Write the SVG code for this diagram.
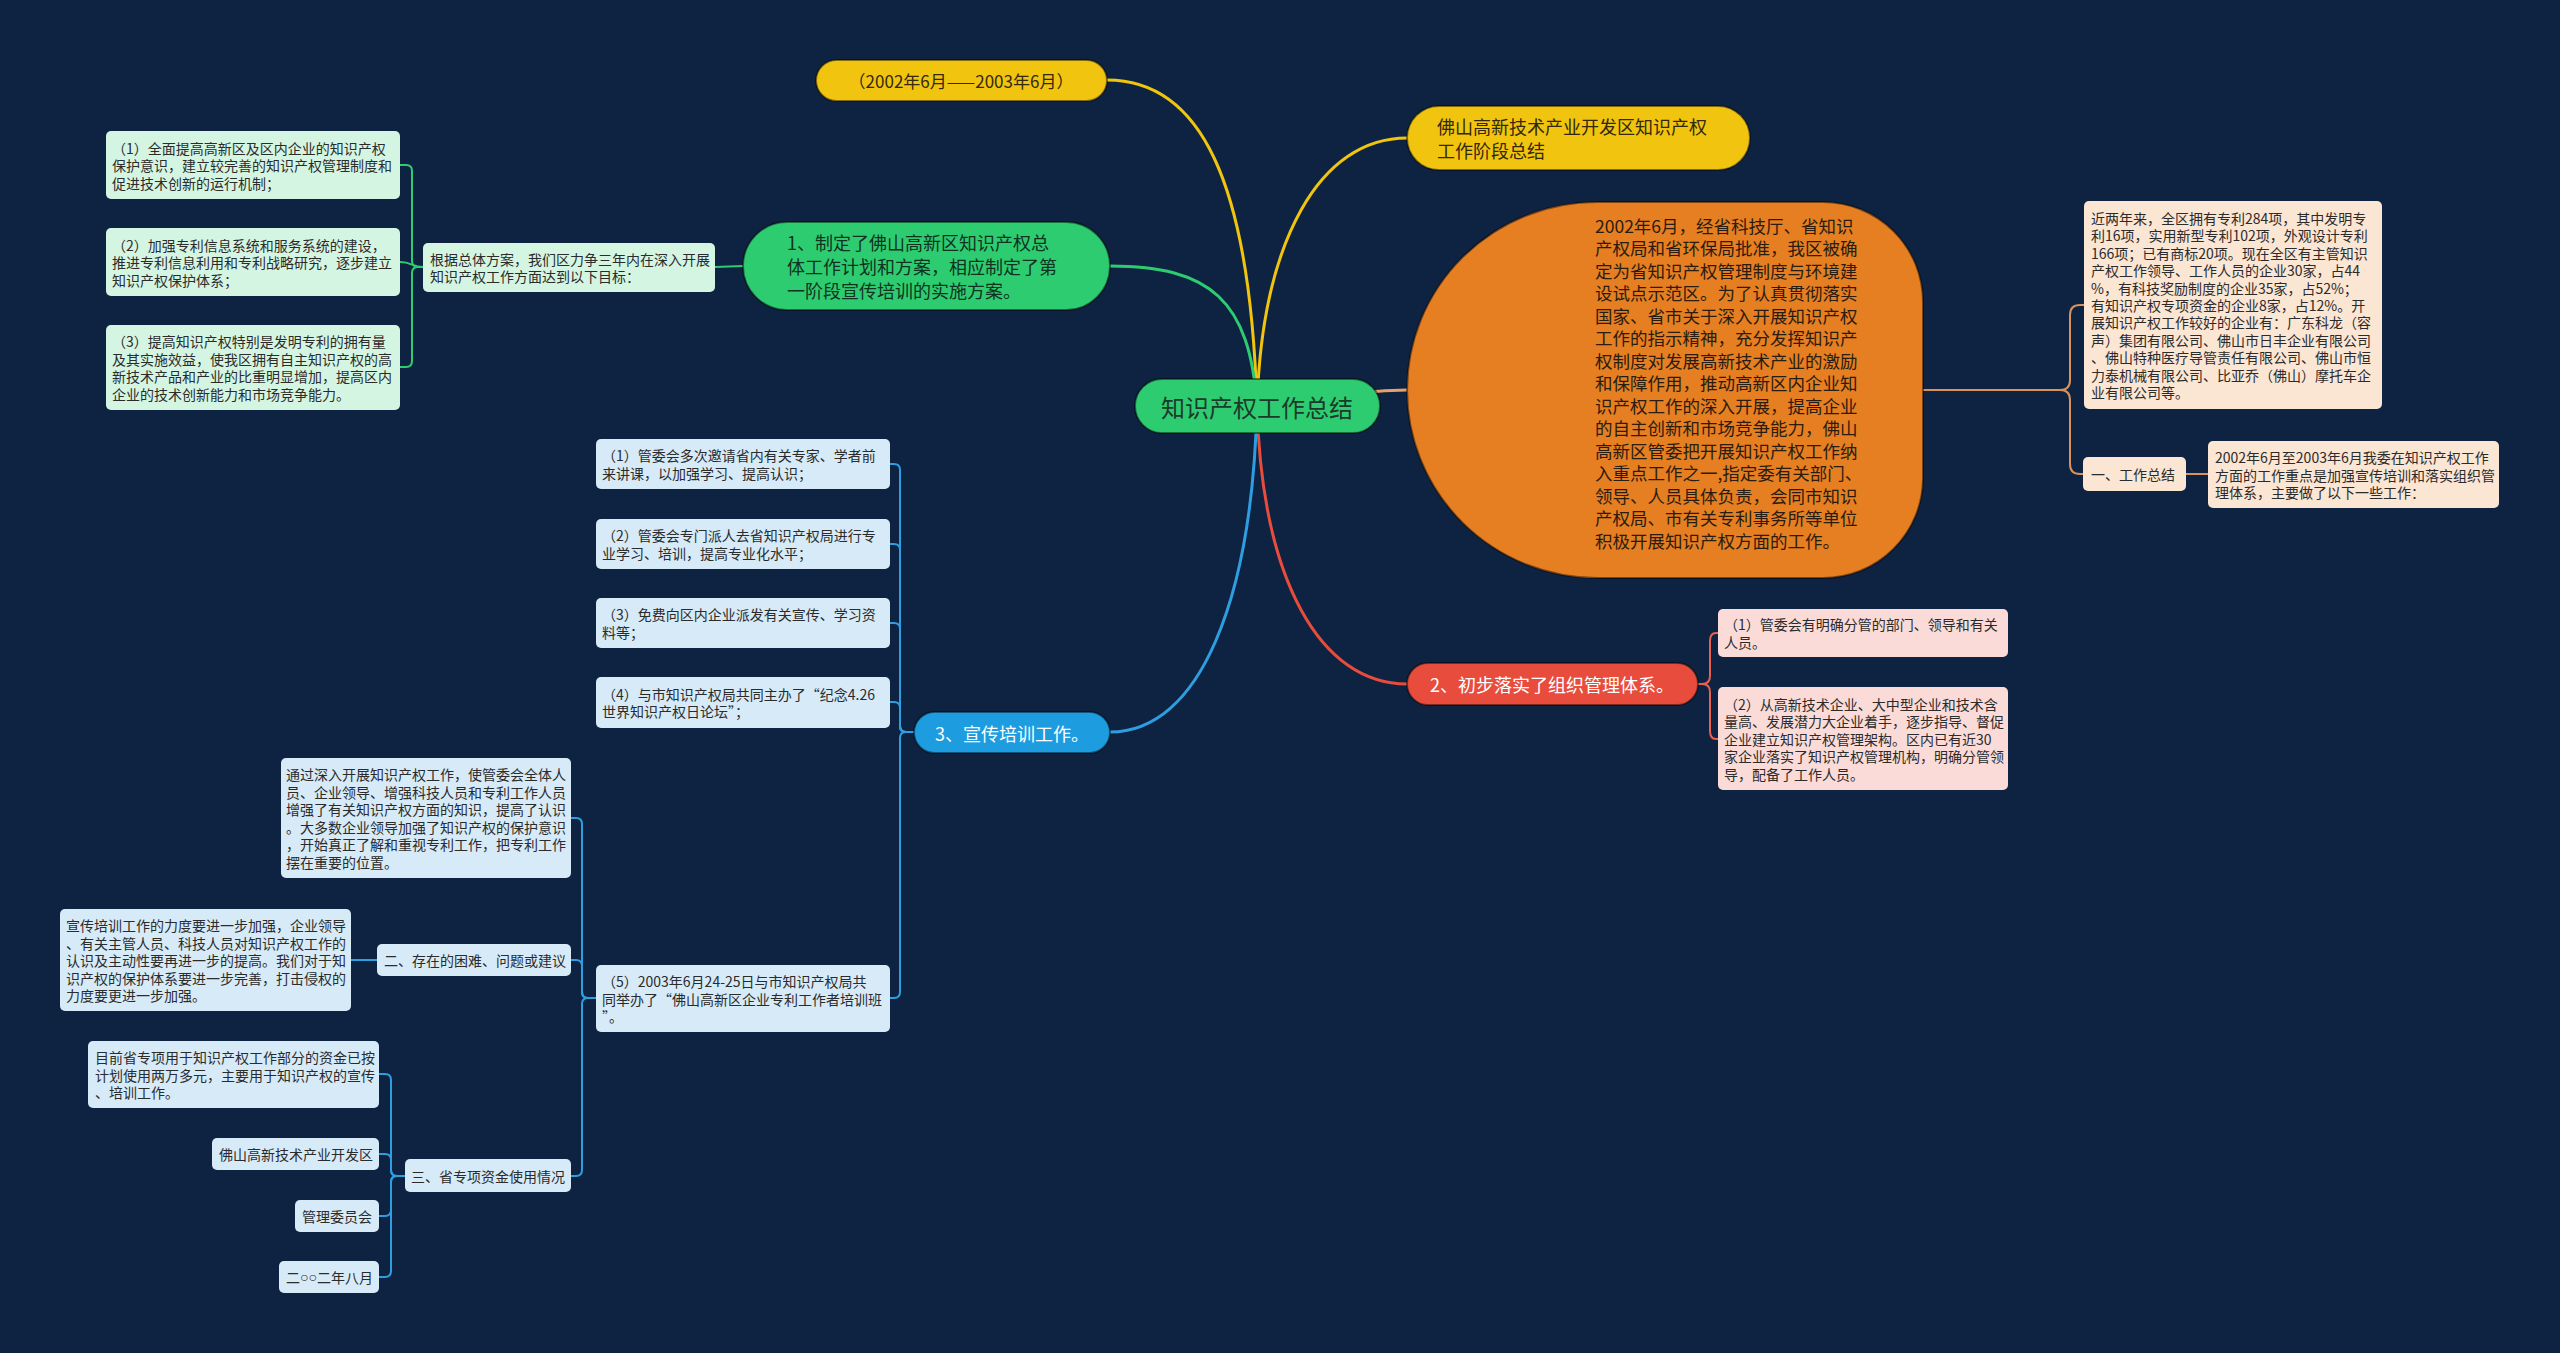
<svg xmlns="http://www.w3.org/2000/svg" width="2560" height="1353" viewBox="0 0 2560 1353">
<style>
text{font-family:"Noto Sans CJK SC","Noto Sans",sans-serif;dominant-baseline:central}
.s{font-size:14px;fill:#2b2b2b}
.m{font-size:18px}
.lg{fill:#d5f5e3}
.lb{fill:#d6eaf8}
.lo{fill:#fbe5d3}
.lr{fill:#fadbd8}
.cg{fill:none;stroke:#2ecc71;stroke-width:2}
.cb{fill:none;stroke:#2f9ee0;stroke-width:2}
.co{fill:none;stroke:#d9925a;stroke-width:2}
.cr{fill:none;stroke:#e8604f;stroke-width:2}
.main{stroke:rgba(0,0,0,0.45);stroke-width:2}
</style>
<rect x="0" y="0" width="2560" height="1353" fill="#0d2341"/>
<g id="connectors">
<path d="M1257,406 C1250,180 1200,80 1107,80" fill="none" stroke="#f1c40f" stroke-width="3"/>
<path d="M1257,406 C1262,240 1320,138 1407,138" fill="none" stroke="#f1c40f" stroke-width="3"/>
<path d="M1257,406 C1250,300 1210,266 1110,266" fill="none" stroke="#2ecc71" stroke-width="3"/>
<path d="M1257,406 C1320,406 1340,390 1407,390" fill="none" stroke="#eaa06a" stroke-width="3"/>
<path d="M1257,406 C1262,580 1320,684 1407,684" fill="none" stroke="#e74c3c" stroke-width="3"/>
<path d="M1257,406 C1252,600 1200,732 1110,732" fill="none" stroke="#2f9ee0" stroke-width="3"/>
<path class="cg" d="M715,267 L743,266"/>
<path class="cg" d="M423,267 H418 Q412,267 412,261 V171 Q412,165 406,165 H400"/>
<path class="cg" d="M423,267 C412,267 412,262 400,262"/>
<path class="cg" d="M423,267 H418 Q412,267 412,273 V361 Q412,367 406,367 H400"/>
<path class="cb" d="M914,732 H906 Q900,732 900,726 V470 Q900,464 894,464 H890"/>
<path class="cb" d="M914,732 H906 Q900,732 900,726 V550 Q900,544 894,544 H890"/>
<path class="cb" d="M914,732 H906 Q900,732 900,726 V629 Q900,623 894,623 H890"/>
<path class="cb" d="M914,732 H906 Q900,732 900,726 V708 Q900,702 894,702 H890"/>
<path class="cb" d="M914,732 H906 Q900,732 900,738 V992 Q900,998 894,998 H890"/>
<path class="cb" d="M596,998 H588 Q582,998 582,992 V824 Q582,818 576,818 H571"/>
<path class="cb" d="M596,998 H588 Q582,998 582,992 V966 Q582,960 576,960 H571"/>
<path class="cb" d="M596,998 H588 Q582,998 582,1004 V1170 Q582,1176 576,1176 H571"/>
<path class="cb" d="M377,960 H351"/>
<path class="cb" d="M405,1176 H397 Q391,1176 391,1170 V1080 Q391,1074 385,1074 H379"/>
<path class="cb" d="M405,1176 H397 Q391,1176 391,1170 V1160 Q391,1154 385,1154 H379"/>
<path class="cb" d="M405,1176 H397 Q391,1176 391,1182 V1210 Q391,1216 385,1216 H379"/>
<path class="cb" d="M405,1176 H397 Q391,1176 391,1182 V1271 Q391,1277 385,1277 H379"/>
<path class="co" d="M1923,390 H2060 Q2070,390 2070,380 V315 Q2070,305 2080,305 H2084"/>
<path class="co" d="M1923,390 H2060 Q2070,390 2070,400 V464 Q2070,474 2080,474 H2083"/>
<path class="co" d="M2186,474 H2208"/>
<path class="cr" d="M1698,684 H1702 Q1710,684 1710,676 V641 Q1710,633 1716,633 H1718"/>
<path class="cr" d="M1698,684 H1702 Q1710,684 1710,692 V731 Q1710,739 1716,739 H1718"/>
</g>
<g id="root">
<rect class="main" x="1135" y="379" width="245" height="54" rx="27" fill="#2ecc71"/>
<text x="1257" y="406" font-size="24" fill="#1b3a2a" text-anchor="middle">知识产权工作总结</text>
</g>
<g id="n-period">
<rect class="main" x="816" y="60" width="291" height="41" rx="20.5" fill="#f1c40f"/>
<text x="961" y="80.5" font-size="17" fill="#33290a" text-anchor="middle">（2002年6月——2003年6月）</text>
</g>
<g id="n-title">
<rect class="main" x="1407" y="106" width="343" height="64" rx="32" fill="#f1c40f"/>
<text class="m" fill="#33290a"><tspan x="1437" y="126">佛山高新技术产业开发区知识产权</tspan><tspan x="1437" y="150">工作阶段总结</tspan></text>
</g>
<g id="n-intro">
<path class="main" d="M1597,202 H1823 A100,100 0 0 1 1923,302 V478 A100,100 0 0 1 1823,578 H1597 A190,188 0 0 1 1597,202 Z" fill="#e67e22"/>
<text font-size="17.5" fill="#2a1c0e">
<tspan x="1595" y="224.5">2002年6月，经省科技厅、省知识</tspan>
<tspan x="1595" y="247">产权局和省环保局批准，我区被确</tspan>
<tspan x="1595" y="269.5">定为省知识产权管理制度与环境建</tspan>
<tspan x="1595" y="292">设试点示范区。为了认真贯彻落实</tspan>
<tspan x="1595" y="314.5">国家、省市关于深入开展知识产权</tspan>
<tspan x="1595" y="337">工作的指示精神，充分发挥知识产</tspan>
<tspan x="1595" y="359.5">权制度对发展高新技术产业的激励</tspan>
<tspan x="1595" y="382">和保障作用，推动高新区内企业知</tspan>
<tspan x="1595" y="404.5">识产权工作的深入开展，提高企业</tspan>
<tspan x="1595" y="427">的自主创新和市场竞争能力，佛山</tspan>
<tspan x="1595" y="449.5">高新区管委把开展知识产权工作纳</tspan>
<tspan x="1595" y="472">入重点工作之一,指定委有关部门、</tspan>
<tspan x="1595" y="494.5">领导、人员具体负责，会同市知识</tspan>
<tspan x="1595" y="517">产权局、市有关专利事务所等单位</tspan>
<tspan x="1595" y="539.5">积极开展知识产权方面的工作。</tspan>
</text>
</g>
<g id="n-stats">
<rect class="lo" x="2084" y="201" width="298" height="208" rx="5"/>
<text class="s">
<tspan x="2091" y="218">近两年来，全区拥有专利284项，其中发明专</tspan>
<tspan x="2091" y="235.4">利16项，实用新型专利102项，外观设计专利</tspan>
<tspan x="2091" y="252.8">166项；已有商标20项。现在全区有主管知识</tspan>
<tspan x="2091" y="270.2">产权工作领导、工作人员的企业30家，占44</tspan>
<tspan x="2091" y="287.6">%，有科技奖励制度的企业35家，占52%；</tspan>
<tspan x="2091" y="305">有知识产权专项资金的企业8家，占12%。开</tspan>
<tspan x="2091" y="322.4">展知识产权工作较好的企业有：广东科龙（容</tspan>
<tspan x="2091" y="339.8">声）集团有限公司、佛山市日丰企业有限公司</tspan>
<tspan x="2091" y="357.2">、佛山特种医疗导管责任有限公司、佛山市恒</tspan>
<tspan x="2091" y="374.6">力泰机械有限公司、比亚乔（佛山）摩托车企</tspan>
<tspan x="2091" y="392">业有限公司等。</tspan>
</text>
</g>
<g id="n-summary">
<rect class="lo" x="2083" y="457" width="103" height="34" rx="5"/>
<text class="s" x="2091" y="474">一、工作总结</text>
</g>
<g id="n-summary-text">
<rect class="lo" x="2208" y="441" width="291" height="67" rx="5"/>
<text class="s">
<tspan x="2215" y="457">2002年6月至2003年6月我委在知识产权工作</tspan>
<tspan x="2215" y="474.5">方面的工作重点是加强宣传培训和落实组织管</tspan>
<tspan x="2215" y="492">理体系，主要做了以下一些工作：</tspan>
</text>
</g>
<g id="n-org">
<rect class="main" x="1407" y="663" width="291" height="42" rx="21" fill="#e74c3c"/>
<text class="m" x="1552" y="684" fill="#ffffff" text-anchor="middle">2、初步落实了组织管理体系。</text>
</g>
<g id="n-org1">
<rect class="lr" x="1718" y="609" width="290" height="48" rx="5"/>
<text class="s"><tspan x="1724" y="624.25">（1）管委会有明确分管的部门、领导和有关</tspan><tspan x="1724" y="641.75">人员。</tspan></text>
</g>
<g id="n-org2">
<rect class="lr" x="1718" y="687" width="290" height="103" rx="5"/>
<text class="s">
<tspan x="1724" y="703.5">（2）从高新技术企业、大中型企业和技术含</tspan>
<tspan x="1724" y="721">量高、发展潜力大企业着手，逐步指导、督促</tspan>
<tspan x="1724" y="738.5">企业建立知识产权管理架构。区内已有近30</tspan>
<tspan x="1724" y="756">家企业落实了知识产权管理机构，明确分管领</tspan>
<tspan x="1724" y="773.5">导，配备了工作人员。</tspan>
</text>
</g>
<g id="n-plan">
<rect class="main" x="743" y="222" width="367" height="88" rx="44" fill="#2ecc71"/>
<text class="m" fill="#0f3320">
<tspan x="787" y="242">1、制定了佛山高新区知识产权总</tspan>
<tspan x="787" y="266">体工作计划和方案，相应制定了第</tspan>
<tspan x="787" y="290">一阶段宣传培训的实施方案。</tspan>
</text>
</g>
<g id="n-goal">
<rect class="lg" x="423" y="243" width="292" height="49" rx="5"/>
<text class="s"><tspan x="430" y="258.75">根据总体方案，我们区力争三年内在深入开展</tspan><tspan x="430" y="276.25">知识产权工作方面达到以下目标：</tspan></text>
</g>
<g id="n-goal1">
<rect class="lg" x="106" y="131" width="294" height="68" rx="5"/>
<text class="s">
<tspan x="112" y="147.5">（1）全面提高高新区及区内企业的知识产权</tspan>
<tspan x="112" y="165">保护意识，建立较完善的知识产权管理制度和</tspan>
<tspan x="112" y="182.5">促进技术创新的运行机制；</tspan>
</text>
</g>
<g id="n-goal2">
<rect class="lg" x="106" y="228" width="294" height="68" rx="5"/>
<text class="s">
<tspan x="112" y="244.5">（2）加强专利信息系统和服务系统的建设，</tspan>
<tspan x="112" y="262">推进专利信息利用和专利战略研究，逐步建立</tspan>
<tspan x="112" y="279.5">知识产权保护体系；</tspan>
</text>
</g>
<g id="n-goal3">
<rect class="lg" x="106" y="325" width="294" height="85" rx="5"/>
<text class="s">
<tspan x="112" y="341.25">（3）提高知识产权特别是发明专利的拥有量</tspan>
<tspan x="112" y="358.75">及其实施效益，使我区拥有自主知识产权的高</tspan>
<tspan x="112" y="376.25">新技术产品和产业的比重明显增加，提高区内</tspan>
<tspan x="112" y="393.75">企业的技术创新能力和市场竞争能力。</tspan>
</text>
</g>
<g id="n-train">
<rect class="main" x="914" y="712" width="196" height="41" rx="20.5" fill="#1e9ce0"/>
<text class="m" x="1012" y="732.5" fill="#ffffff" text-anchor="middle">3、宣传培训工作。</text>
</g>
<g id="n-train1">
<rect class="lb" x="596" y="439" width="294" height="50" rx="5"/>
<text class="s"><tspan x="602" y="455.25">（1）管委会多次邀请省内有关专家、学者前</tspan><tspan x="602" y="472.75">来讲课，以加强学习、提高认识；</tspan></text>
</g>
<g id="n-train2">
<rect class="lb" x="596" y="519" width="294" height="50" rx="5"/>
<text class="s"><tspan x="602" y="535.25">（2）管委会专门派人去省知识产权局进行专</tspan><tspan x="602" y="552.75">业学习、培训，提高专业化水平；</tspan></text>
</g>
<g id="n-train3">
<rect class="lb" x="596" y="598" width="294" height="50" rx="5"/>
<text class="s"><tspan x="602" y="614.25">（3）免费向区内企业派发有关宣传、学习资</tspan><tspan x="602" y="631.75">料等；</tspan></text>
</g>
<g id="n-train4">
<rect class="lb" x="596" y="677" width="294" height="51" rx="5"/>
<text class="s"><tspan x="602" y="693.75">（4）与市知识产权局共同主办了“纪念4.26</tspan><tspan x="602" y="711.25">世界知识产权日论坛”；</tspan></text>
</g>
<g id="n-train5">
<rect class="lb" x="596" y="965" width="294" height="67" rx="5"/>
<text class="s">
<tspan x="602" y="981">（5）2003年6月24-25日与市知识产权局共</tspan>
<tspan x="602" y="998.5">同举办了“佛山高新区企业专利工作者培训班</tspan>
<tspan x="602" y="1016">”。</tspan>
</text>
</g>
<g id="n-effect">
<rect class="lb" x="281" y="758" width="290" height="120" rx="5"/>
<text class="s">
<tspan x="286" y="774.25">通过深入开展知识产权工作，使管委会全体人</tspan>
<tspan x="286" y="791.75">员、企业领导、增强科技人员和专利工作人员</tspan>
<tspan x="286" y="809.25">增强了有关知识产权方面的知识，提高了认识</tspan>
<tspan x="286" y="826.75">。大多数企业领导加强了知识产权的保护意识</tspan>
<tspan x="286" y="844.25">，开始真正了解和重视专利工作，把专利工作</tspan>
<tspan x="286" y="861.75">摆在重要的位置。</tspan>
</text>
</g>
<g id="n-problem">
<rect class="lb" x="377" y="944" width="194" height="32" rx="5"/>
<text class="s" x="384" y="960">二、存在的困难、问题或建议</text>
</g>
<g id="n-problem1">
<rect class="lb" x="60" y="909" width="291" height="102" rx="5"/>
<text class="s">
<tspan x="66" y="925">宣传培训工作的力度要进一步加强，企业领导</tspan>
<tspan x="66" y="942.5">、有关主管人员、科技人员对知识产权工作的</tspan>
<tspan x="66" y="960">认识及主动性要再进一步的提高。我们对于知</tspan>
<tspan x="66" y="977.5">识产权的保护体系要进一步完善，打击侵权的</tspan>
<tspan x="66" y="995">力度要更进一步加强。</tspan>
</text>
</g>
<g id="n-fund">
<rect class="lb" x="405" y="1159" width="166" height="33" rx="5"/>
<text class="s" x="411" y="1175.5">三、省专项资金使用情况</text>
</g>
<g id="n-fund1">
<rect class="lb" x="88" y="1041" width="291" height="67" rx="5"/>
<text class="s">
<tspan x="95" y="1057">目前省专项用于知识产权工作部分的资金已按</tspan>
<tspan x="95" y="1074.5">计划使用两万多元，主要用于知识产权的宣传</tspan>
<tspan x="95" y="1092">、培训工作。</tspan>
</text>
</g>
<g id="n-fund2">
<rect class="lb" x="212" y="1138" width="167" height="32" rx="5"/>
<text class="s" x="219" y="1154">佛山高新技术产业开发区</text>
</g>
<g id="n-fund3">
<rect class="lb" x="295" y="1200" width="84" height="32" rx="5"/>
<text class="s" x="302" y="1216">管理委员会</text>
</g>
<g id="n-fund4">
<rect class="lb" x="279" y="1261" width="100" height="32" rx="5"/>
<text class="s" x="286" y="1277">二<tspan font-family="Liberation Sans,Noto Sans CJK SC,sans-serif">○○</tspan>二年八月</text>
</g>
</svg>
